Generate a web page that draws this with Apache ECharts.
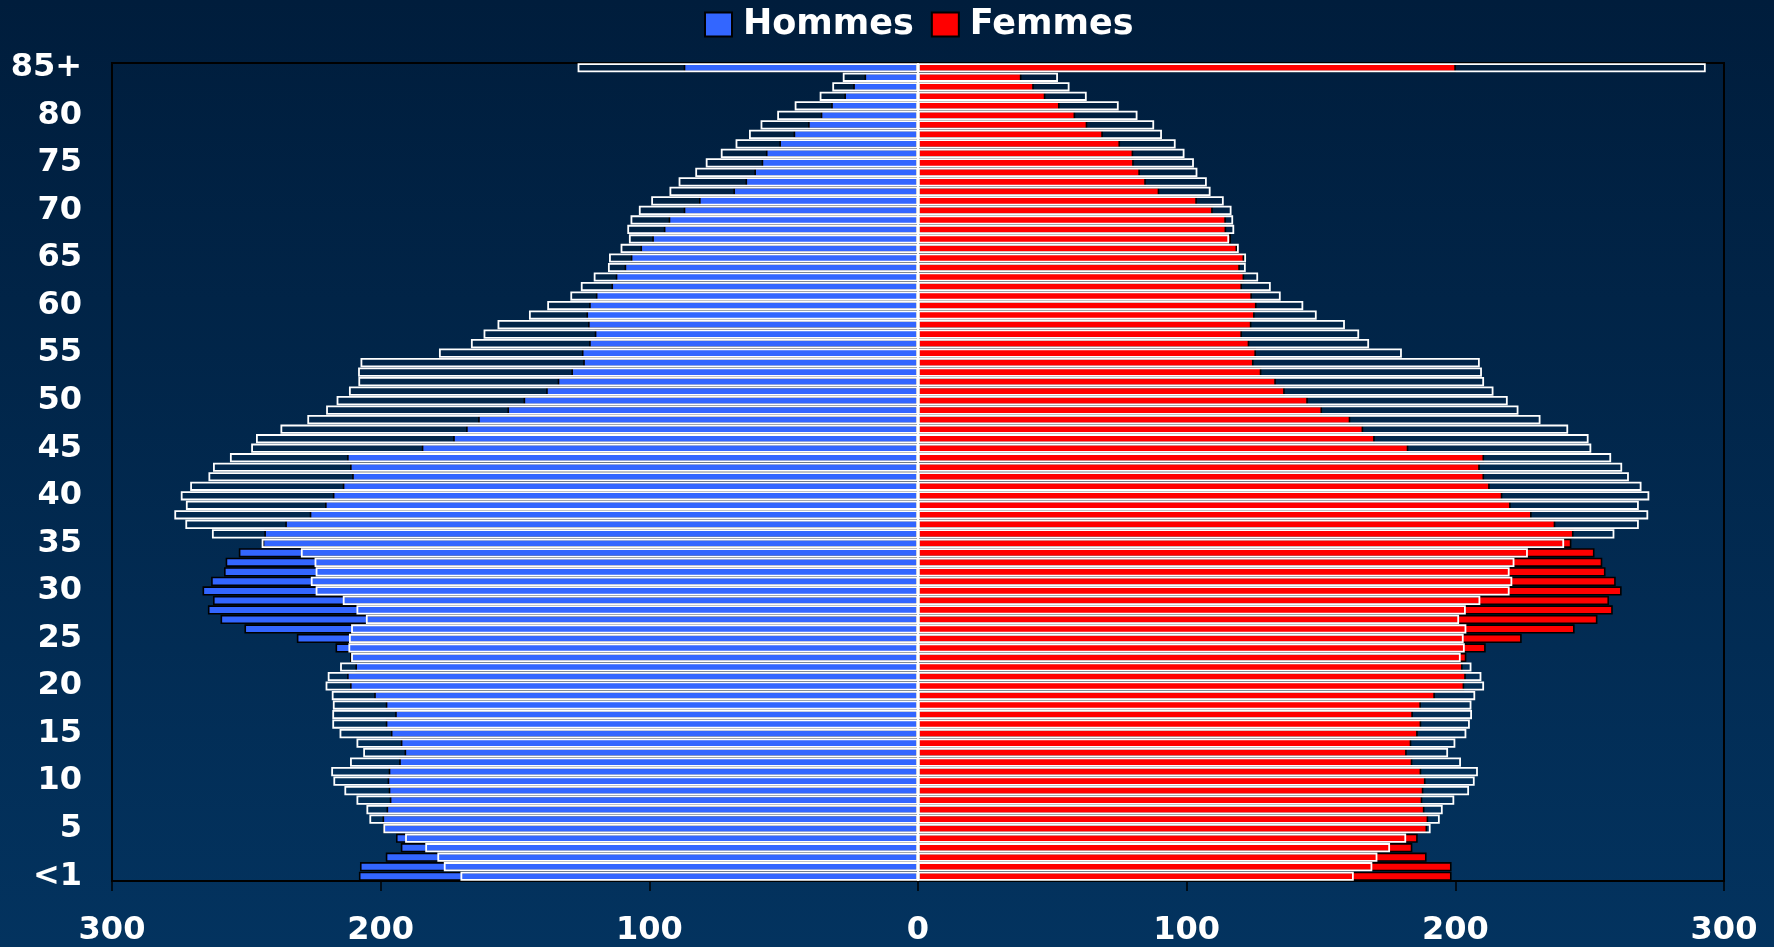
<!DOCTYPE html>
<html>
<head>
<meta charset="utf-8">
<script src="https://cdn.jsdelivr.net/npm/echarts@6/dist/echarts.min.js"></script>
<style>
html,body{margin:0;padding:0;background:#012a50;}
#chart{width:1774px;height:947px;}
</style>
</head>
<body>
<div id="chart"></div>
<script>
// Age categories, bottom (<1) to top (85+)
const categories = ['<1','1','2','3','4','5','6','7','8','9','10','11','12','13','14','15','16','17','18','19','20',
'21','22','23','24','25','26','27','28','29','30','31','32','33','34','35','36','37','38','39','40',
'41','42','43','44','45','46','47','48','49','50','51','52','53','54','55','56','57','58','59','60',
'61','62','63','64','65','66','67','68','69','70','71','72','73','74','75','76','77','78','79','80',
'81','82','83','84','85+'];

const xTicks = [-300, -200, -100, 0, 100, 200, 300];

// Hommes: solid bars
const hommes = [208.1,207.7,198.1,192.5,194.3,199.1,199.3,197.8,196.6,197.0,
197.4,197.0,193.1,191.1,192.5,196.2,198.1,194.6,198.1,202.4,
211.4,212.5,209.4,211.4,216.8,231.2,250.7,259.6,264.3,262.4,
266.3,263.1,258.3,257.7,252.8,243.9,243.3,235.5,226.4,220.7,
217.8,214.1,210.6,211.4,212.5,184.7,173.0,168.2,163.7,152.8,
146.8,138.4,134.1,129.0,124.6,125.1,122.4,120.3,122.8,123.4,
122.4,119.9,114.1,112.5,109.2,106.9,103.3,98.9,94.6,92.8,
87.2,81.5,68.7,64.2,60.9,58.2,56.6,51.6,46.3,40.9,
36.2,32.3,27.4,24.1,19.9,87.2];

// Hommes: outlined reference bars
const hommesRef = [170.3,176.5,178.9,183.4,190.9,199.0,204.2,205.3,209.0,213.5,
217.6,218.4,211.4,206.5,209.0,215.3,218.0,218.0,217.8,218.2,
220.5,219.7,215.1,211.0,212.0,211.8,211.0,205.5,209.0,214.1,
224.2,226.0,224.2,224.6,229.7,244.3,262.8,272.7,276.8,272.5,
274.4,270.9,264.1,262.4,256.1,248.2,246.4,237.3,227.3,220.3,
216.4,211.8,208.3,208.4,207.5,178.3,166.4,161.7,156.5,144.8,
138.0,129.4,125.5,120.7,115.4,115.0,110.7,107.6,108.2,107.0,
103.9,99.3,92.5,89.1,82.9,79.0,73.4,67.9,62.9,58.6,
52.4,45.9,36.6,31.9,28.0,126.7];

// Femmes: solid bars
const femmes = [198.6,198.6,189.3,184.0,186.0,189.5,189.9,188.5,187.7,188.1,
188.9,187.3,184.0,181.9,183.6,186.0,187.3,184.2,187.2,192.4,
203.3,203.9,202.7,204.1,211.3,224.7,244.4,252.9,258.6,257.2,
261.9,259.7,255.9,254.7,251.8,243.2,244.0,237.2,228.4,220.6,
217.5,212.8,210.7,209.1,210.7,182.5,170.0,165.7,160.9,150.4,
145.1,136.5,133.2,127.8,124.9,125.8,123.3,120.6,124.1,125.3,
126.0,124.3,120.6,121.4,119.8,121.4,118.8,116.5,114.7,114.6,
109.7,103.8,89.8,84.8,82.6,80.3,80.1,75.2,68.8,63.0,
58.5,52.7,47.4,43.1,38.5,200.2];

// Femmes: outlined reference bars
const femmesRef = [162.2,169.1,171.0,175.7,181.7,190.8,194.2,195.3,199.6,205.1,
207.2,208.4,202.1,197.3,200.0,204.1,205.4,206.2,206.0,207.4,
210.7,209.7,206.0,202.0,203.5,203.1,204.1,201.4,203.9,209.3,
220.2,221.2,220.2,222.0,227.0,240.5,259.2,268.3,271.8,268.3,
272.2,269.3,264.6,262.1,258.0,250.6,249.6,242.0,231.7,223.5,
219.5,214.2,210.7,209.9,209.1,180.1,167.9,164.2,158.9,148.4,
143.4,135.0,131.3,126.6,122.0,122.1,119.4,115.8,117.7,117.3,
116.7,113.8,108.9,107.5,104.0,102.7,99.2,95.9,90.8,87.9,
81.7,74.7,62.8,56.4,52.1,293.2];

const FONT = 'DejaVu Sans';
const chart = echarts.init(document.getElementById('chart'), null, {renderer: 'canvas'});

const solidStyle = (c) => ({color: c, borderColor: '#000000', borderWidth: 1.6});
const outlineStyle = {color: 'rgba(0,0,0,0)', borderColor: '#ffffff', borderWidth: 1.8};
const GAP = '3%';

chart.setOption({
  animation: false,
  backgroundColor: {
    type: 'linear', x: 0, y: 0, x2: 0, y2: 1,
    colorStops: [{offset: 0, color: '#001d3c'}, {offset: 1, color: '#03335f'}]
  },
  legend: {
    top: 2,
    left: 699,
    icon: 'rect',
    itemWidth: 27,
    itemHeight: 24,
    itemGap: 17,
    data: [
      {name: 'Hommes', itemStyle: {color: '#3366ff', borderColor: '#000', borderWidth: 2}},
      {name: 'Femmes', itemStyle: {color: '#ff0000', borderColor: '#000', borderWidth: 2}}
    ],
    textStyle: {color: '#ffffff', fontSize: 35, fontWeight: 'bold', fontFamily: FONT, padding: [0, 0, 0, 6]}
  },
  grid: {
    left: 112, right: 50, top: 63, bottom: 66,
    show: true, borderColor: '#000000', borderWidth: 2,
    backgroundColor: 'rgba(0,0,0,0)'
  },
  xAxis: {
    type: 'value',
    min: xTicks[0], max: xTicks[xTicks.length - 1], interval: 100,
    axisLine: {show: true, lineStyle: {color: '#000', width: 2}},
    axisTick: {show: true, length: 10, lineStyle: {color: '#000', width: 1.5}},
    splitLine: {show: false},
    axisLabel: {
      color: '#ffffff', fontSize: 32, fontWeight: 'bold', fontFamily: FONT, margin: 34,
      formatter: (v) => String(Math.abs(v))
    }
  },
  yAxis: {
    type: 'category',
    data: categories,
    axisLine: {show: false},
    axisTick: {show: false},
    splitLine: {show: false},
    axisLabel: {
      interval: 4,
      color: '#ffffff', fontSize: 32, fontWeight: 'bold', fontFamily: FONT, margin: 30
    }
  },
  series: [
    {name: 'Hommes', type: 'bar', data: hommes.map(v => -v), barGap: '-100%', barCategoryGap: GAP,
     itemStyle: solidStyle('#3366ff'), z: 2},
    {name: 'Femmes', type: 'bar', data: femmes, barGap: '-100%', barCategoryGap: GAP,
     itemStyle: solidStyle('#ff0000'), z: 2},
    {name: 'Hommes ref', type: 'bar', data: hommesRef.map(v => -v), barGap: '-100%', barCategoryGap: GAP,
     itemStyle: outlineStyle, z: 3},
    {name: 'Femmes ref', type: 'bar', data: femmesRef, barGap: '-100%', barCategoryGap: GAP,
     itemStyle: outlineStyle, z: 3,
     markLine: {silent: true, symbol: 'none', label: {show: false},
       lineStyle: {color: '#ffffff', width: 2, type: 'solid'},
       data: [{xAxis: 0}]}}
  ]
});
</script>
</body>
</html>
